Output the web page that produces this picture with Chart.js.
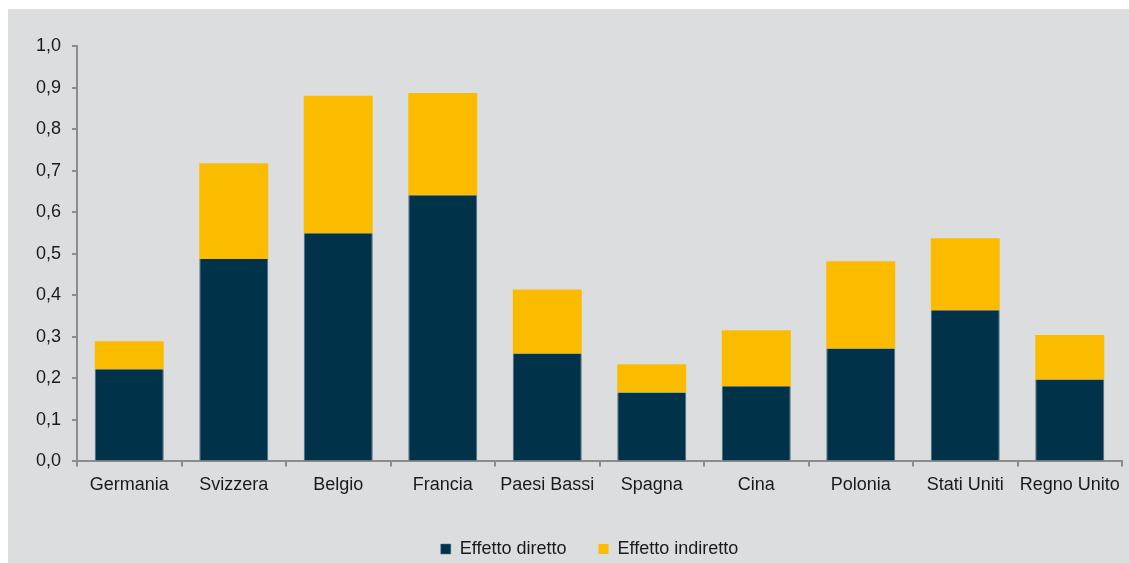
<!DOCTYPE html>
<html>
<head>
<meta charset="utf-8">
<script src="https://cdn.jsdelivr.net/npm/chart.js@4"></script>
<style>
  body { margin: 0; background: #ffffff; overflow: hidden; }
  #box { position: absolute; left: 8px; top: 9px; width: 1121px; height: 554px; background: #dcdddf; }
</style>
</head>
<body>
<div id="box"><canvas id="mycanvas" width="1121" height="554"></canvas></div>
<script>
var paesi = ['Germania', 'Svizzera', 'Belgio', 'Francia', 'Paesi Bassi', 'Spagna', 'Cina', 'Polonia', 'Stati Uniti', 'Regno Unito'];
var effetto_diretto = [0.222, 0.487, 0.549, 0.641, 0.260, 0.166, 0.181, 0.272, 0.364, 0.197];
var effetto_indiretto = [0.067, 0.231, 0.331, 0.246, 0.154, 0.068, 0.135, 0.210, 0.173, 0.107];

Chart.defaults.font.family = '"Liberation Sans", Arial, sans-serif';
Chart.defaults.font.size = 18;
Chart.defaults.color = '#1a1a1a';

// sposta la legenda un po' a destra, come nell'originale
var shiftLegend = {
	id: 'shiftLegend',
	afterLayout: function(chart) {
		chart.legend.left += 16;
		chart.legend.right += 16;
	}
};

var ctx = document.getElementById('mycanvas');

var chart = new Chart(ctx, {
	type: 'bar',
	data: {
		labels: paesi,
		datasets: [
			{
				label: 'Effetto diretto',
				data: effetto_diretto,
				backgroundColor: '#00324a',
				borderColor: '#4d6c80',
				borderWidth: { left: 1, right: 1, top: 0, bottom: 0 },
				borderSkipped: false,
				barPercentage: 0.66,
				categoryPercentage: 1.0
			},
			{
				label: 'Effetto indiretto',
				data: effetto_indiretto,
				backgroundColor: '#fbbc00',
				borderWidth: 0,
				barPercentage: 0.66,
				categoryPercentage: 1.0
			}
		]
	},
	plugins: [shiftLegend],
	options: {
		responsive: false,
		animation: false,
		layout: { padding: { top: 37, right: 7, left: 17, bottom: -5 } },
		plugins: {
			tooltip: { enabled: false },
			legend: {
				position: 'bottom',
				labels: {
					boxWidth: 10,
					boxHeight: 10,
					padding: 32
				}
			}
		},
		scales: {
			x: {
				stacked: true,
				grid: { display: true, drawOnChartArea: false, drawTicks: true, tickLength: 5, color: '#8c8c8c', lineWidth: 2 },
				border: { color: '#8c8c8c', width: 2 },
				ticks: { padding: 8, maxRotation: 0, autoSkip: false },
				afterFit: function(scale) { scale.height += 4; }
			},
			y: {
				stacked: true,
				min: 0,
				max: 1,
				grid: { display: true, drawOnChartArea: false, drawTicks: true, tickLength: 5, color: '#8c8c8c', lineWidth: 2 },
				border: { color: '#8c8c8c', width: 2 },
				ticks: {
					stepSize: 0.1,
					padding: 11,
					callback: function(value) { return value.toFixed(1).replace('.', ','); }
				}
			}
		}
	}
});
</script>
</body>
</html>
